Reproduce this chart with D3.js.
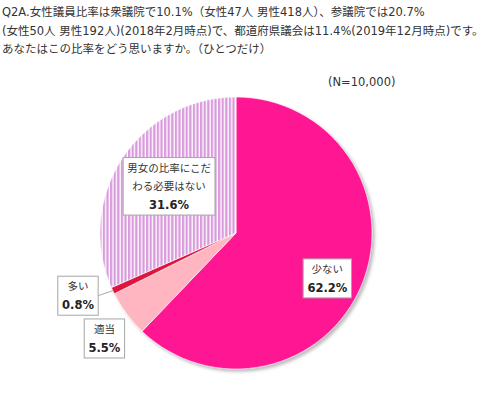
<!DOCTYPE html>
<html>
<head>
<meta charset="utf-8">
<script src="https://cdn.jsdelivr.net/npm/d3@7"></script>
<style>
  body { margin: 0; background: #fff; }
  text { font-family: "DejaVu Sans", "Noto Sans CJK JP", sans-serif; }
</style>
</head>
<body>
<div id="wrapper"></div>
<script>
// data
const titleLines = [
    "Q2A.女性議員比率は衆議院で10.1%（女性47人 男性418人）、参議院では20.7%",
    "(女性50人 男性192人)(2018年2月時点)で、都道府県議会は11.4%(2019年12月時点)です。",
    "あなたはこの比率をどう思いますか。（ひとつだけ）"
];
const sampleNote = "(N=10,000)";
const categories = ["少ない", "適当", "多い", "男女の比率にこだわる必要はない"];
const labelLines = [["少ない"], ["適当"], ["多い"], ["男女の比率にこだ", "わる必要はない"]];
const values = [62.2, 5.5, 0.8, 31.6];

// layout
const sliceFills = ["#FF1493", "#FFB6C1", "#DC143C", "url(#stripes)"];
const labelRadius = [0.75, 1.24, 1.25, 0.6];
const labelAngleNudge = [0.08, -0.04, 0.06, 0.03];

const dimensions = {
    width: 483,
    height: 400,
    cx: 236,
    cy: 233,
    radius: 136
};

const svg = d3.select("#wrapper")
    .append("svg")
    .attr("width", dimensions.width)
    .attr("height", dimensions.height);

const defs = svg.append("defs");
const pattern = defs.append("pattern")
    .attr("id", "stripes")
    .attr("patternUnits", "userSpaceOnUse")
    .attr("width", 3.6)
    .attr("height", 10);
pattern.append("rect").attr("width", 3.6).attr("height", 10).attr("fill", "#fff");
pattern.append("rect").attr("width", 2.3).attr("height", 10).attr("fill", "#DA9BDD");

const shadow = defs.append("filter")
    .attr("id", "shadow")
    .attr("x", "-10%").attr("y", "-10%")
    .attr("width", "130%").attr("height", "130%");
shadow.append("feDropShadow")
    .attr("dx", 2.5).attr("dy", 2.5)
    .attr("stdDeviation", 1.8)
    .attr("flood-color", "#888")
    .attr("flood-opacity", 0.55);

// title
svg.append("g")
    .selectAll("text")
    .data(titleLines)
    .join("text")
    .attr("x", 2)
    .attr("y", (d, i) => 16 + i * 18.5)
    .attr("fill", "#333")
    .style("font-size", "11.5px")
    .text(d => d);

svg.append("text")
    .attr("x", 328)
    .attr("y", 86)
    .attr("fill", "#333")
    .style("font-size", "11.5px")
    .text(sampleNote);

// pie
const pie = d3.pie().sort(null).value(d => d)(values);
const arc = d3.arc().innerRadius(0).outerRadius(dimensions.radius);

const bounds = svg.append("g")
    .attr("transform", `translate(${dimensions.cx},${dimensions.cy})`);

bounds.append("g")
    .attr("filter", "url(#shadow)")
    .selectAll("path")
    .data(pie)
    .join("path")
    .attr("d", arc)
    .attr("fill", (d, i) => sliceFills[i])
    .attr("stroke", "#fff")
    .attr("stroke-width", 0.6);

// labels
const labelPos = pie.map((d, i) => {
    const a = (d.startAngle + d.endAngle) / 2 + labelAngleNudge[i];
    const r = dimensions.radius * labelRadius[i];
    return [Math.sin(a) * r, -Math.cos(a) * r];
});

// leader line for the thin slice
const thin = pie[2];
const thinAngle = (thin.startAngle + thin.endAngle) / 2;
const edgePoint = [Math.sin(thinAngle) * dimensions.radius, -Math.cos(thinAngle) * dimensions.radius];
const leader = bounds.append("path")
    .attr("fill", "none")
    .attr("stroke", "#aaa")
    .attr("stroke-width", 1);

const labels = bounds.selectAll("g.label")
    .data(pie)
    .join("g")
    .attr("class", "label")
    .attr("transform", (d, i) => `translate(${labelPos[i][0]},${labelPos[i][1]})`);

labels.each(function(d, i) {
    const g = d3.select(this);
    const lines = labelLines[i].map(t => ({ t, bold: false }))
        .concat([{ t: d3.format(".1f")(values[i]) + "%", bold: true }]);
    const lineGap = 18.5;
    const top = -(lines.length - 1) * lineGap / 2;
    const rect = g.append("rect");
    g.selectAll("text")
        .data(lines)
        .join("text")
        .attr("text-anchor", "middle")
        .attr("y", (l, j) => top + j * lineGap + 4)
        .attr("fill", l => l.bold ? "#222" : "#333")
        .style("font-size", l => l.bold ? "11.5px" : "10.5px")
        .style("font-weight", l => l.bold ? "bold" : "normal")
        .text(l => l.t);
    const bb = g.node().getBBox();
    const w = bb.width + 8;
    const h = lines.length * lineGap + 2;
    rect.attr("x", -w / 2)
        .attr("y", -h / 2)
        .attr("width", w)
        .attr("height", h)
        .attr("fill", "#fff")
        .attr("stroke", "#a6a6a6")
        .attr("stroke-width", 1);
    if (i === 2) {
        leader.attr("d", `M${labelPos[i][0] + w / 2},${labelPos[i][1]}L${edgePoint[0]},${edgePoint[1]}`);
    }
});
</script>
</body>
</html>
